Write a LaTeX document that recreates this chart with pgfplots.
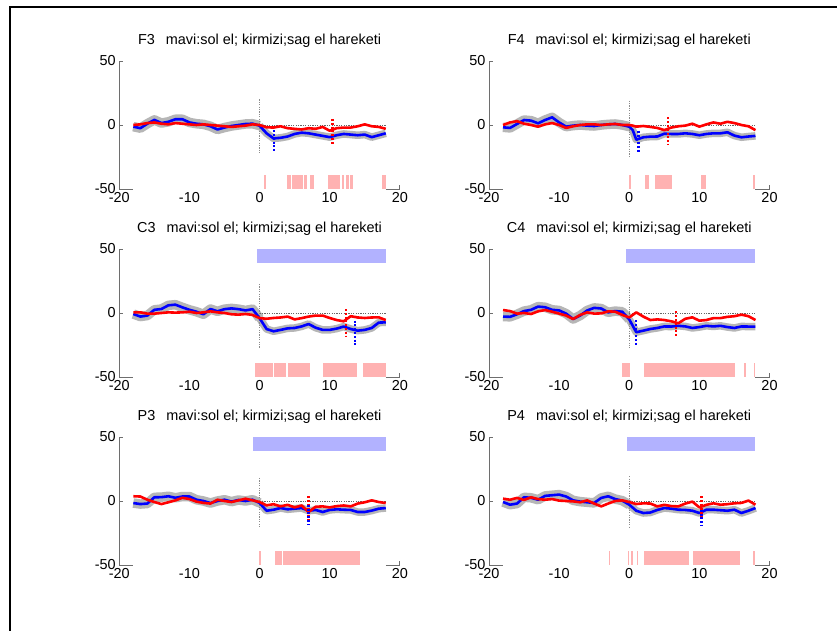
\documentclass[border=0pt]{standalone}
\usepackage{pgfplots}
\pgfplotsset{compat=1.18}
\usepackage{pgfplotstable}
\usepackage{fontspec}
\setmainfont{Liberation Sans}

\definecolor{pinkbar}{RGB}{255,178,178}
\definecolor{bluebar}{RGB}{178,178,255}
\definecolor{axgray}{RGB}{110,110,110}
\definecolor{band}{RGB}{182,182,182}

\pgfplotstableread{
x b r
-18 -1.3 0
-17 -2.5 0.5
-16 1.0 1.5
-15 4.0 2.0
-14 1.5 1.0
-13 2.5 0.5
-12 4.5 1.5
-11 4.5 1.0
-10 2.0 0.5
-9 1.0 0
-8 0.5 0.5
-7 -1.0 0
-6 -3.5 -0.5
-5 -2.0 -1.0
-4 -0.8 -1.5
-3 0.0 -1.0
-2 0.8 -0.5
-1 1.0 0.5
0 -0.5 0
1 -6.5 -1.8
2 -10.5 -2.0
3 -10.0 -1.0
4 -9.0 -2.5
5 -7.0 -3.0
6 -6.0 -3.5
7 -6.5 -2.5
8 -7.5 -3.0
9 -8.5 -1.5
10 -9.5 -4.5
11 -8.0 -2.5
12 -7.0 -2.0
13 -7.5 -2.0
14 -8.0 -1.0
15 -7.5 0.5
16 -9.5 -1.0
17 -8.0 -1.5
18 -6.5 -3.0
}\Fthree

\pgfplotstableread{
x b r
-18 -1.8 0
-17 -2.3 2.0
-16 0.8 3.0
-15 3.9 1.0
-14 3.4 0
-13 1.3 -1.3
-12 3.9 0.5
-11 6.0 1.5
-10 2.0 0
-9 -1.3 -2.3
-8 -0.5 -1.0
-7 0 0
-6 -0.5 0.5
-5 -0.8 0.5
-4 0 0
-3 0.5 0.5
-2 0.8 0.8
-1 0 0
0 -1.3 0
0.5 -4.0 -0.5
1 -11.5 -1.3
2 -9.6 -0.8
3 -9.1 -1.5
4 -9.0 -2.3
5 -6.8 -4.0
6 -7.0 -2.0
7 -7.0 -1.0
8 -6.5 -0.5
9 -7.0 1.0
10 -8.0 -1.3
11 -7.0 0.5
12 -6.5 2.0
13 -6.5 1.0
14 -5.7 2.5
15 -8.3 1.5
16 -9.6 0
17 -9.0 -1.0
18 -8.5 -4.0
}\Ffour

\pgfplotstableread{
x b r
-18 -0.8 0.5
-17 -2.8 0.5
-16 -2.0 -0.5
-15 2.5 -0.5
-14 3.1 0
-13 6.0 0.5
-12 6.5 0.3
-11 4.4 0.5
-10 2.5 1.0
-9 1.0 0
-8 -1.0 0.5
-7 3.1 1.3
-6 1.3 0.5
-5 3.0 0
-4 3.6 -1.0
-3 3.0 -1.3
-2 2.0 -0.8
-1 3.0 -1.5
0 -4.0 -4.0
1 -12.5 -4.5
2 -14.3 -3.9
3 -13.2 -3.5
4 -12.0 -2.8
5 -11.7 -5.0
6 -10.5 -4.0
7 -8.6 -2.8
8 -11.5 -2.0
9 -13.2 -2.0
10 -13.2 -3.9
11 -12.2 -5.5
12 -10.6 -6.5
13 -12.5 -2.5
14 -13.8 -3.5
15 -13.2 -3.9
16 -11.7 -3.5
17 -7.5 -3.4
18 -7.3 -5.5
}\Cthree

\pgfplotstableread{
x b r
-18 -2.8 2.3
-17 -3.0 1.5
-16 -1.0 -0.5
-15 1.5 0
-14 2.5 -0.8
-13 5.0 1.3
-12 4.5 2.3
-11 2.5 1.0
-10 2.0 -0.5
-9 -0.5 -2.0
-8 -4.7 -4.7
-7 -2.0 -1.5
-6 2.0 0.5
-5 4.0 -0.5
-4 3.5 -0.3
-3 0.5 1.3
-2 1.5 1.0
-1 1.0 -1.5
0 -5.0 -3.5
1 -15.0 0.5
2 -13.8 -2.8
3 -12.5 -5.5
4 -11.7 -5.0
5 -10.5 -5.5
6 -10.6 -6.5
7 -10.0 -8.0
8 -10.5 -4.5
9 -11.7 -3.4
10 -11.0 -6.0
11 -10.0 -5.5
12 -10.5 -4.0
13 -10.0 -4.0
14 -11.0 -3.0
15 -11.7 -2.5
16 -10.5 -1.3
17 -10.6 -2.5
18 -10.6 -5.5
}\Cfour

\pgfplotstableread{
x b r
-18 -1.6 3.7
-17 -2.4 3.5
-16 -2.0 1.0
-15 2.9 -0.8
-14 3.0 -2.4
-13 3.7 -1.0
-12 2.5 0.5
-11 3.5 2.5
-10 3.5 1.5
-9 1.0 -0.5
-8 0 -1.5
-7 -1.6 -2.0
-6 0 1.0
-5 1.0 0
-4 -0.5 -0.8
-3 0.8 0.5
-2 0 1.8
-1 1.0 0.5
0 -1.5 -0.8
1 -7.6 -3.4
2 -6.8 -2.5
3 -5.5 -4.2
4 -6.5 -3.0
5 -6.0 -5.0
6 -5.5 -3.5
7 -7.6 -8.6
8 -7.0 -4.5
9 -8.6 -4.2
10 -7.0 -5.0
11 -6.5 -4.0
12 -6.8 -3.5
13 -7.0 -4.2
14 -8.6 -2.0
15 -8.6 -1.0
16 -7.5 0.5
17 -6.0 -0.8
18 -5.5 -1.6
}\Pthree

\pgfplotstableread{
x b r
-18 -0.8 1.8
-17 -2.9 1.0
-16 -2.0 2.4
-15 2.9 0.8
-14 2.5 2.9
-13 1.0 1.5
-12 4.0 1.0
-11 4.5 1.5
-10 5.0 0.3
-9 3.5 0
-8 0.5 -0.3
-7 -0.5 -1.0
-6 -1.0 0.5
-5 -1.5 -2.0
-4 2.4 -4.2
-3 3.7 -2.0
-2 1.5 0
-1 0.3 0.5
0 -2.9 -0.8
1 -7.6 -2.4
2 -9.4 -1.8
3 -9.0 -2.0
4 -7.0 -4.2
5 -5.5 -3.0
6 -6.0 -4.0
7 -6.8 -4.2
8 -7.0 -2.0
9 -7.6 -0.5
10 -9.4 -5.0
11 -6.8 -3.0
12 -6.8 -1.8
13 -7.2 -2.9
14 -7.6 -2.5
15 -6.8 -1.8
16 -9.4 -1.5
17 -7.6 0.3
18 -5.5 -2.9
}\Pfour

\newcommand{\pbar}[2]{\addplot[fill=pinkbar, draw=none, forget plot] coordinates {(#1,-50) (#2,-50) (#2,-39) (#1,-39)} -- cycle;}
\newcommand{\bbar}[2]{\addplot[fill=bluebar, draw=none, forget plot] coordinates {(#1,39) (#2,39) (#2,50) (#1,50)} -- cycle;}
\newcommand{\reflines}[2]{%
  \addplot[black!60, line width=0.6bp, dash pattern=on 1.2bp off 1.2bp, forget plot] coordinates {(0,0) (18,0)};
  \addplot[black!45, line width=0.7bp, dash pattern=on 1.2bp off 1.2bp, forget plot] coordinates {(0,#1) (0,#2)};
}
\newcommand{\bandplot}[1]{%
  \addplot[band, line width=9.5bp, line cap=butt, line join=round, restrict x to domain=-18:0, forget plot] table[x=x,y=b]{#1};
  \addplot[band, line width=7.5bp, line cap=butt, line join=round, restrict x to domain=0:18, forget plot] table[x=x,y=b]{#1};
}
\newcommand{\drawlines}[1]{%
  \addplot[blue, line width=2.6bp, line join=round, forget plot] table[x=x,y=b]{#1};
  \addplot[red, line width=2.6bp, line join=round, forget plot] table[x=x,y=r]{#1};
}
\newcommand{\vmark}[4]{\addplot[#1, line width=2.3bp, dash pattern=on 2bp off 1.8bp, forget plot] coordinates {(#2,#3) (#2,#4)};}
\newcommand{\axsegs}{%
  \addplot[axgray, line width=0.8bp, forget plot] coordinates {(-20,-50) (-18,-50)};
  \addplot[axgray, line width=0.8bp, forget plot] coordinates {(18,-50) (20,-50) (20,-46.9)};
}

\pgfplotsset{
  panel/.style={
    scale only axis, width=280.5bp, height=128bp,
    xmin=-20, xmax=20, ymin=-50, ymax=50,
    axis x line*=bottom, axis y line*=left,
    x axis line style={draw=none},
    y axis line style={axgray, line width=0.8bp, -},
    xtick={-20,-10,0,10,20}, xticklabels={-20,-10,0,10,20},
    ytick={-50,0,50}, yticklabels={-50,0,50},
    xtick style={draw=none},
    ytick style={axgray, line width=0.8bp},
    tick align=inside, major tick length=4bp,
    tick label style={font=\fontsize{14.5}{16}\selectfont, text=black},
    title style={at={(0.5,1)}, anchor=base, yshift=11bp, font=\fontsize{14.5}{16}\selectfont},
    clip=false,
    anchor=south west,
  },
}

\begin{document}
\begin{tikzpicture}
\path[use as bounding box, fill=white] (0,0) rectangle (837bp,631bp);
\draw[line width=2.2bp] (10bp,0) -- (10bp,624.3bp) -- (837bp,624.3bp);

% F3
\begin{axis}[panel, at={(119.3bp,442bp)}, title={F3\hspace{11bp}mavi:sol el; kirmizi;sag el hareketi}]
  \pbar{0.6}{0.9}\pbar{3.9}{4.5}\pbar{4.6}{6.2}\pbar{6.4}{6.8}\pbar{7.2}{7.7}
  \pbar{9.7}{11.5}\pbar{11.7}{12.05}\pbar{12.3}{12.7}\pbar{12.9}{13.3}\pbar{17.4}{18.0}
  \bandplot{\Fthree}
  \reflines{20}{-22.6}
  \drawlines{\Fthree}
  \vmark{blue}{2.1}{-4}{-21}
  \vmark{red}{10.4}{4.7}{-15.6}
  \axsegs
\end{axis}

% F4
\begin{axis}[panel, at={(489bp,442bp)}, title={F4\hspace{11bp}mavi:sol el; kirmizi;sag el hareketi}]
  \pbar{0}{0.2}\pbar{2.3}{2.75}\pbar{3.7}{6.1}\pbar{10.2}{11.0}\pbar{17.7}{18.0}
  \bandplot{\Ffour}
  \reflines{19}{-25.3}
  \drawlines{\Ffour}
  \vmark{blue}{1.3}{-4.5}{-22}
  \vmark{red}{5.5}{6}{-15}
  \axsegs
\end{axis}

% C3
\begin{axis}[panel, at={(119.3bp,254bp)}, title={C3\hspace{11bp}mavi:sol el; kirmizi;sag el hareketi}]
  \bbar{-0.4}{18}
  \pbar{-0.6}{1.9}\pbar{2.1}{3.8}\pbar{4.1}{7.2}\pbar{9.1}{13.95}\pbar{14.8}{18.0}
  \bandplot{\Cthree}
  \reflines{22.6}{-27}
  \drawlines{\Cthree}
  \vmark{red}{12.3}{3.1}{-17.7}
  \vmark{blue}{13.6}{-6}{-25.4}
  \axsegs
\end{axis}

% C4
\begin{axis}[panel, at={(489bp,254bp)}, title={C4\hspace{11bp}mavi:sol el; kirmizi;sag el hareketi}]
  \bbar{-0.5}{18}
  \pbar{-1.05}{0.15}\pbar{2.15}{15.15}\pbar{16.4}{16.7}\pbar{17.75}{18.0}
  \bandplot{\Cfour}
  \reflines{20}{-27}
  \drawlines{\Cfour}
  \vmark{blue}{1.0}{-5.5}{-25.4}
  \vmark{red}{6.7}{1.2}{-19.5}
  \axsegs
\end{axis}

% P3
\begin{axis}[panel, at={(119.3bp,66bp)}, title={P3\hspace{11bp}mavi:sol el; kirmizi;sag el hareketi}]
  \bbar{-1.0}{18}
  \pbar{-0.14}{0.2}\pbar{2.2}{3.2}\pbar{3.4}{14.3}
  \bandplot{\Pthree}
  \reflines{18}{-21}
  \drawlines{\Pthree}
  \vmark{red}{7.0}{3.6}{-16}
  \vmark{blue}{7.0}{-3}{-18.6}
  \axsegs
\end{axis}

% P4
\begin{axis}[panel, at={(489bp,66bp)}, title={P4\hspace{11bp}mavi:sol el; kirmizi;sag el hareketi}]
  \bbar{-0.33}{18}
  \pbar{-2.9}{-2.7}\pbar{-0.25}{0}\pbar{0.25}{0.5}\pbar{1.1}{1.3}\pbar{2.05}{8.5}\pbar{9.1}{15.85}\pbar{17.7}{18.0}
  \bandplot{\Pfour}
  \reflines{19.3}{-21.7}
  \drawlines{\Pfour}
  \vmark{red}{10.3}{3.6}{-13.3}
  \vmark{blue}{10.3}{-6.8}{-19.9}
  \axsegs
\end{axis}
\end{tikzpicture}
\end{document}
